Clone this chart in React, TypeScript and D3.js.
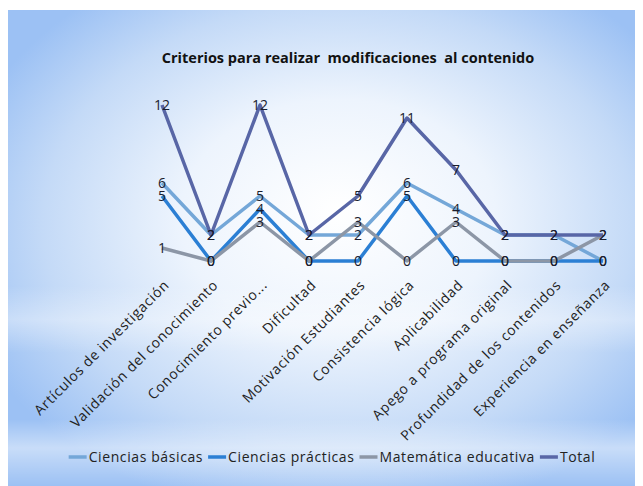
import { useEffect, useRef } from "react";
import * as d3 from "d3";

const categories = [
  "Artículos de investigación",
  "Validación del conocimiento",
  "Conocimiento previo...",
  "Dificultad",
  "Motivación Estudiantes",
  "Consistencia lógica",
  "Aplicabilidad",
  "Apego a programa original",
  "Profundidad de los contenidos",
  "Experiencia en enseñanza",
];

const seriesNames = [
  "Ciencias básicas",
  "Ciencias prácticas",
  "Matemática educativa",
  "Total",
];

const cienciasBasicas = [6, 2, 5, 2, 2, 6, 4, 2, 2, 0];
const cienciasPracticas = [5, 0, 4, 0, 0, 5, 0, 0, 0, 0];
const matematicaEducativa = [1, 0, 3, 0, 3, 0, 3, 0, 0, 2];
const total = [12, 2, 12, 2, 5, 11, 7, 2, 2, 2];

const seriesColors = ["#74a7d8", "#2b7fd4", "#8c96a6", "#5866a6"];

const FONT = "'Open Sans', sans-serif";

const App = () => {
  const legendRef = useRef<SVGGElement>(null);

  const width = 635;
  const height = 478;

  const series = [cienciasBasicas, cienciasPracticas, matematicaEducativa, total];

  const xScale = d3.scalePoint<string>().domain(categories).range([154, 595]);
  const yScale = d3.scaleLinear().domain([0, 12]).range([253, 97]);

  const line = d3
    .line<number>()
    .x((_, i) => xScale(categories[i])!)
    .y((d) => yScale(d));

  // lay out legend items one after another, centred
  useEffect(() => {
    const g = d3.select(legendRef.current);
    const items = g.selectAll<SVGGElement, unknown>("g.item");
    let x = 0;
    const swatch = 18;
    const gap = 5;
    items.each(function () {
      const item = d3.select(this);
      const txt = item.select<SVGTextElement>("text");
      item.attr("transform", `translate(${x},0)`);
      x += swatch + 2 + txt.node()!.getComputedTextLength() + gap;
    });
    const totalW = x - gap;
    g.attr("transform", `translate(${324 - totalW / 2},449)`);
  }, []);

  return (
    <svg width={width} height={height} style={{ display: "block" }}>
      <defs>
        <radialGradient id="bg" cx="52%" cy="46%" r="62%" fx="52%" fy="42%">
          <stop offset="0%" stopColor="#ffffff" />
          <stop offset="40%" stopColor="#edf4fd" />
          <stop offset="75%" stopColor="#c4daf7" />
          <stop offset="100%" stopColor="#9cc1f4" />
        </radialGradient>
        <linearGradient id="band" x1="0" y1="0" x2="0" y2="1">
          <stop offset="0%" stopColor="#ffffff" stopOpacity={0} />
          <stop offset="58%" stopColor="#ffffff" stopOpacity={0} />
          <stop offset="65%" stopColor="#ffffff" stopOpacity={0.35} />
          <stop offset="72%" stopColor="#ffffff" stopOpacity={0} />
          <stop offset="86%" stopColor="#ffffff" stopOpacity={0} />
          <stop offset="92%" stopColor="#ffffff" stopOpacity={0.45} />
          <stop offset="100%" stopColor="#ffffff" stopOpacity={0} />
        </linearGradient>
      </defs>
      <rect x={0} y={2} width={width} height={height - 2} fill="url(#bg)" />
      <rect x={0} y={2} width={width} height={height - 2} fill="url(#band)" />

      <text
        x={340}
        y={55}
        textAnchor="middle"
        fontFamily={FONT}
        fontWeight={700}
        fontSize={14.5}
        fill="#111"
        style={{ whiteSpace: "pre" }}
      >
        Criterios para realizar  modificaciones  al contenido
      </text>

      {series.map((values, si) => (
        <path
          key={seriesNames[si]}
          d={line(values)!}
          fill="none"
          stroke={seriesColors[si]}
          strokeWidth={3.5}
          strokeLinejoin="round"
        />
      ))}

      {series.map((values, si) =>
        values.map((v, i) => (
          <text
            key={`${si}-${i}`}
            x={xScale(categories[i])!}
            y={yScale(v)}
            dy="0.36em"
            textAnchor="middle"
            fontFamily={FONT}
            fontSize={14}
            fill="#1a1d2e"
          >
            {v}
          </text>
        ))
      )}

      {categories.map((c) => (
        <text
          key={c}
          transform={`translate(${xScale(c)! + 8},278) rotate(-45)`}
          textAnchor="end"
          fontFamily={FONT}
          fontSize={14}
          letterSpacing={0.7}
          fill="#222"
        >
          {c}
        </text>
      ))}

      <g ref={legendRef}>
        {seriesNames.map((name, si) => (
          <g className="item" key={name}>
            <line
              x1={0}
              x2={18}
              y1={0}
              y2={0}
              stroke={seriesColors[si]}
              strokeWidth={3.5}
            />
            <text
              x={20}
              y={0}
              dy="0.35em"
              fontFamily={FONT}
              fontSize={14}
              letterSpacing={0.6}
              fill="#222"
            >
              {name}
            </text>
          </g>
        ))}
      </g>
    </svg>
  );
};

export default App;
